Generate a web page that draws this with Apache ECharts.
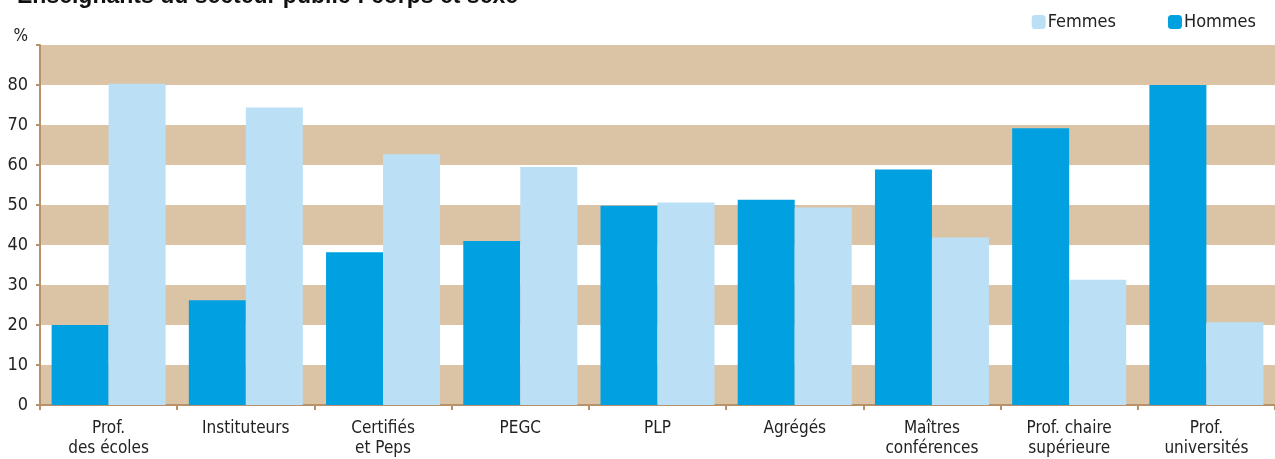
<!DOCTYPE html>
<html>
<head>
<meta charset="utf-8">
<script src="https://cdn.jsdelivr.net/npm/echarts@6/dist/echarts.min.js"></script>
<style>
  html, body { margin: 0; padding: 0; background: #fff; }
  #chart { width: 1275px; height: 459px; }
</style>
</head>
<body>
<div id="chart"></div>
<script>
(function() {
    'use strict';

    // categories (corps)
    var corps = ['Prof.\ndes écoles', 'Instituteurs', 'Certifiés\net Peps', 'PEGC', 'PLP',
                 'Agrégés', 'Maîtres\nconférences', 'Prof. chaire\nsupérieure', 'Prof.\nuniversités'];
    // % per sex
    var hommes = [20.0, 26.2, 38.2, 41.0, 49.8, 51.3, 58.9, 69.2, 80.0];
    var femmes = [80.3, 74.4, 62.7, 59.5, 50.6, 49.4, 41.9, 31.3, 20.7];
    var yTicks = [0, 10, 20, 30, 40, 50, 60, 70, 80];

    var font = '"DejaVu Sans Condensed", "Liberation Sans Narrow", sans-serif';
    var brown = '#b8916a';

    var option = {
        animation: false,
        textStyle: { fontFamily: font },
        title: {
            text: 'Enseignants du secteur public : corps et sexe',
            left: 12,
            top: -20,
            textStyle: { fontFamily: 'Liberation Sans, Arial, sans-serif', fontWeight: 'bold', fontSize: 23, color: '#111' }
        },
        legend: {
            right: 14,
            top: 8,
            itemWidth: 14,
            itemHeight: 14,
            itemGap: 52,
            textStyle: { fontFamily: font, fontSize: 18, color: '#222', padding: [0, 0, 0, -3] },
            data: ['Femmes', 'Hommes']
        },
        grid: { left: 40, top: 45, width: 1237, bottom: 54 },
        xAxis: {
            type: 'category',
            data: corps,
            axisLine: { lineStyle: { color: brown, width: 2 } },
            axisTick: { show: true, length: 5, lineStyle: { color: brown, width: 2 } },
            axisLabel: { color: '#222', fontSize: 17, lineHeight: 20, margin: 14, interval: 0, fontFamily: font }
        },
        yAxis: {
            type: 'value',
            min: 0,
            max: 90,
            interval: 10,
            name: '%',
            nameLocation: 'end',
            nameGap: 0,
            nameTextStyle: { color: '#222', fontSize: 17, fontFamily: font, align: 'right', padding: [0, 12, 0, 0] },
            axisLine: { show: true, lineStyle: { color: brown, width: 2 } },
            axisTick: { show: true, length: 4, lineStyle: { color: brown, width: 2 } },
            axisLabel: {
                color: '#222', fontSize: 18, margin: 12, fontFamily: font,
                formatter: function(v) { return yTicks.indexOf(v) >= 0 ? String(v) : ''; }
            },
            splitLine: { show: false },
            splitArea: { show: true, areaStyle: { color: ['#dbc4a6', '#ffffff'] } }
        },
        series: [
            {
                name: 'Hommes',
                type: 'bar',
                data: hommes,
                barWidth: 57,
                barGap: '0%',
                itemStyle: { color: '#00a0e1' }
            },
            {
                name: 'Femmes',
                type: 'bar',
                data: femmes,
                barWidth: 57,
                barGap: '0%',
                itemStyle: { color: '#bbe0f6' }
            }
        ]
    };

    var myChart = echarts.init(document.getElementById('chart'));
    myChart.setOption(option);
})();
</script>
</body>
</html>
